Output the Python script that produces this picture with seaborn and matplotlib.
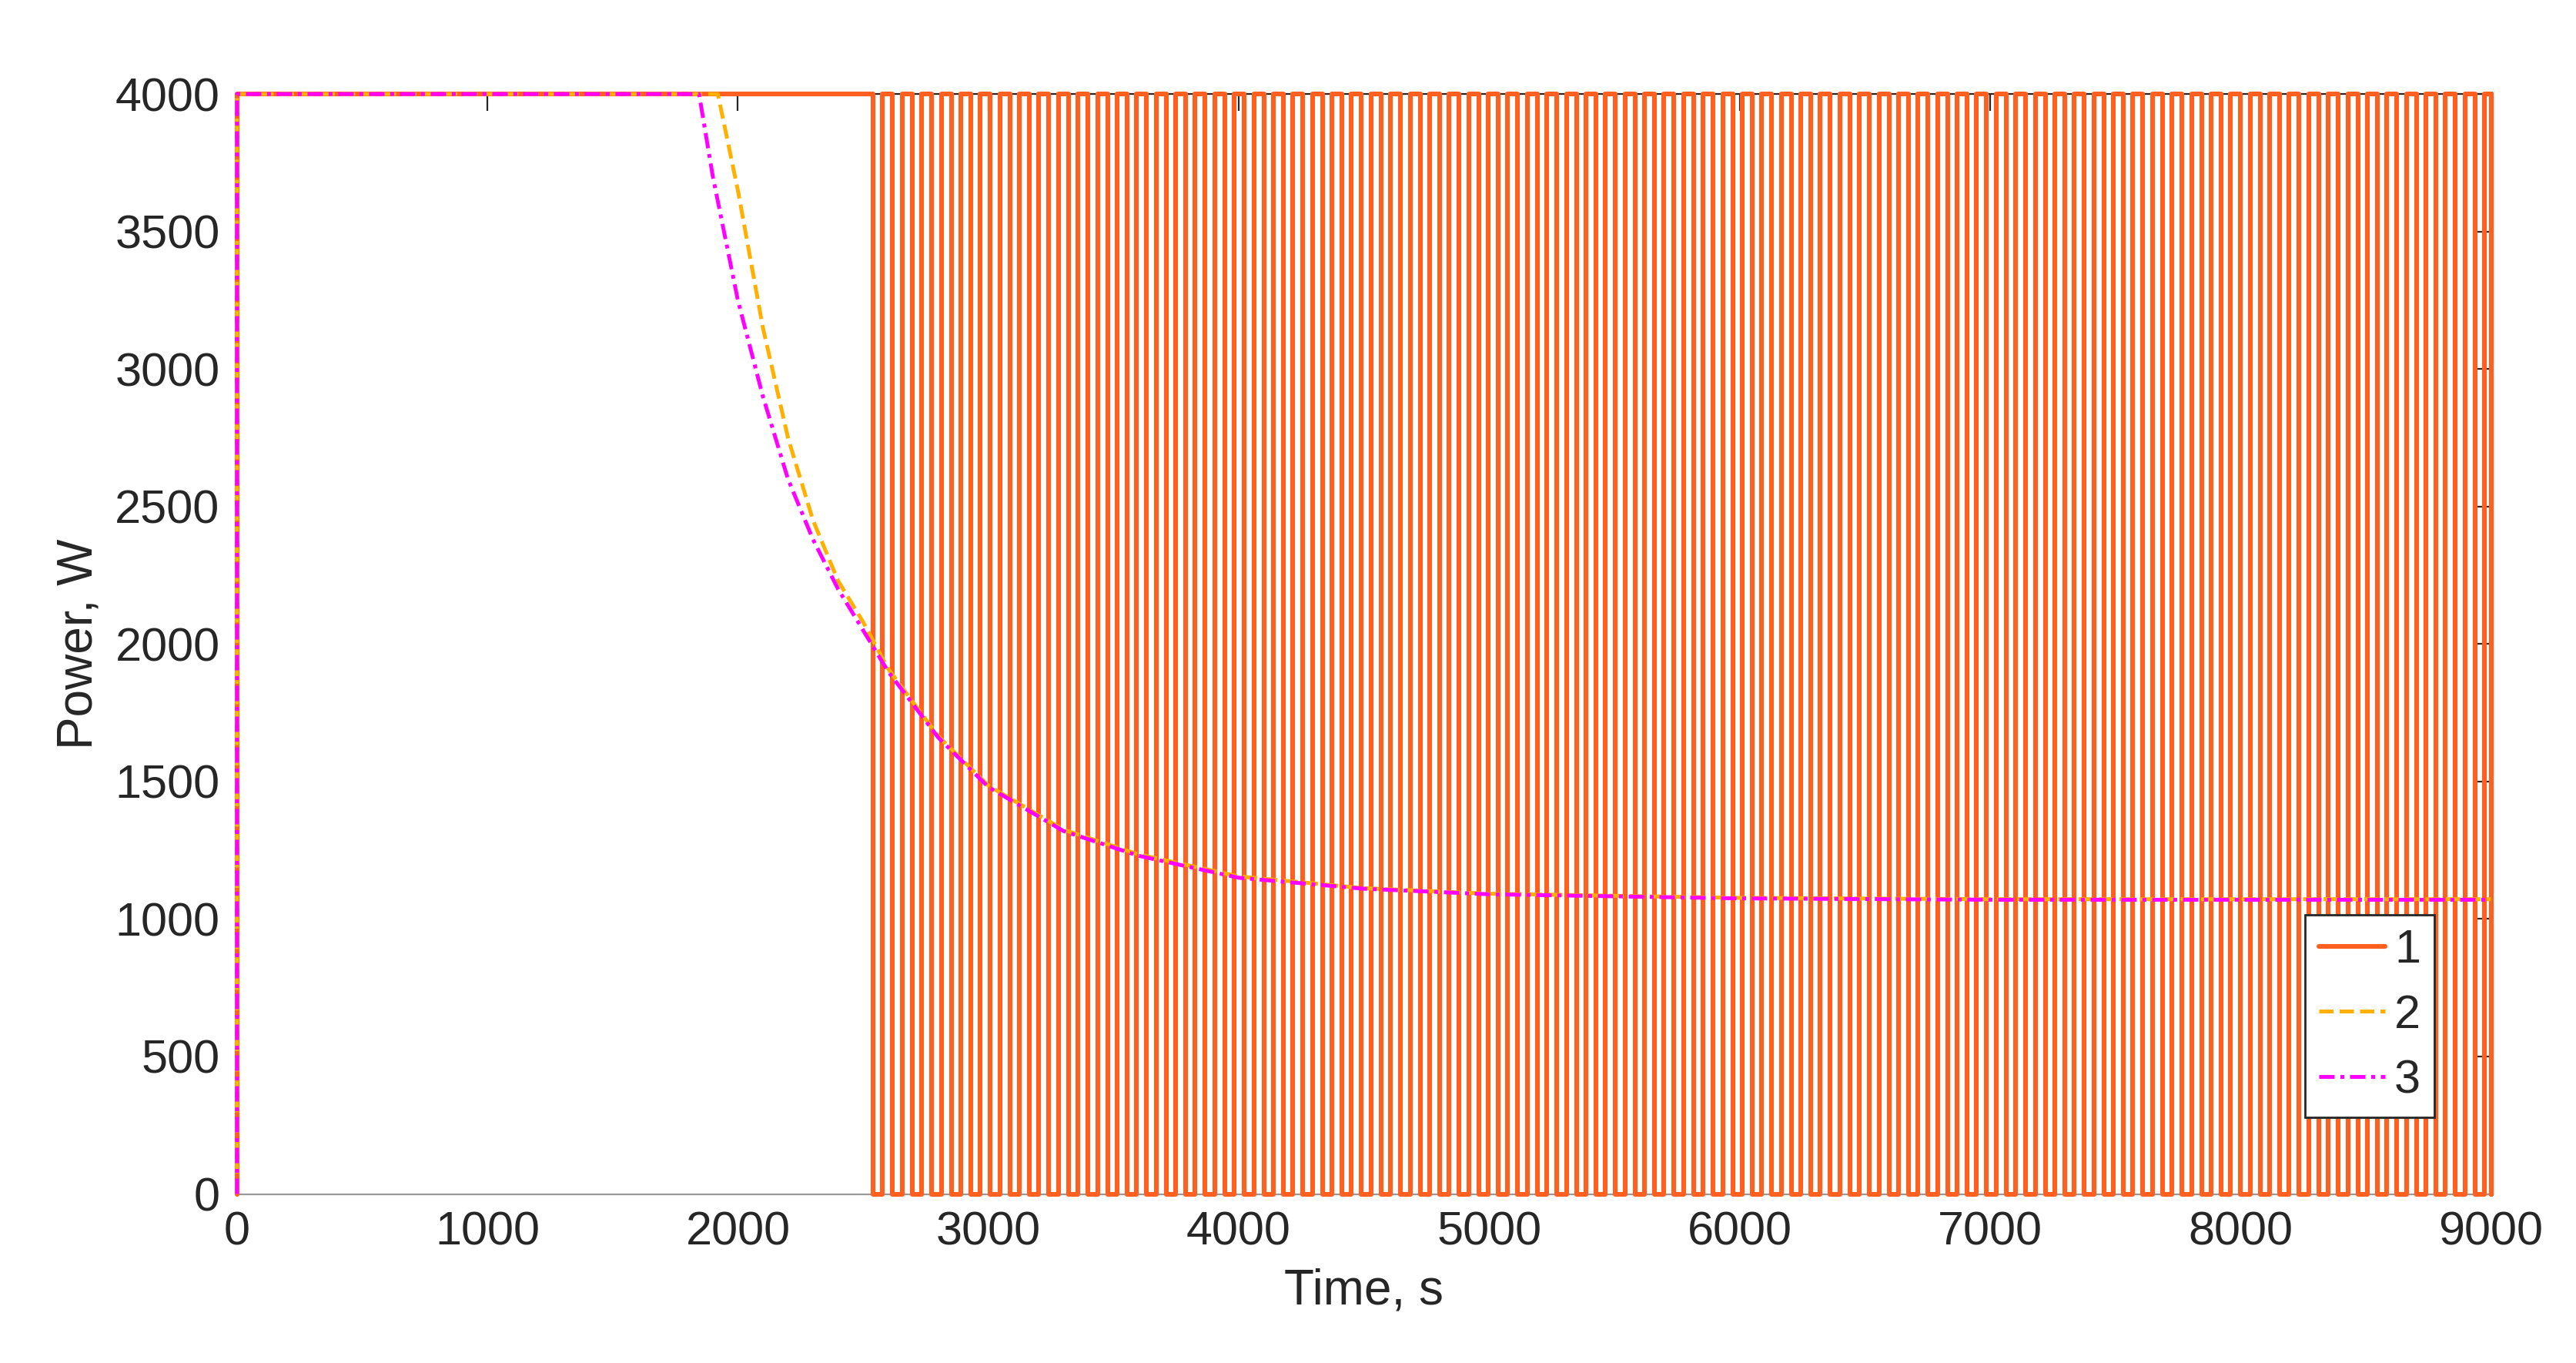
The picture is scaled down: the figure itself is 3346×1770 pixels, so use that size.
import numpy as np
import pandas as pd
import matplotlib
matplotlib.use("Agg")
import matplotlib.pyplot as plt
import seaborn as sns

# curve 1: on/off switching after 2500 s
switch_start = 2500
switch_end = 9000
switch_period = 78
switch_on = 40
p_max = 4000

# curves 2 and 3
t2 = [0, 0, 1920, 2000, 2100, 2200, 2300, 2400, 2500, 2600, 2800, 3000, 3300, 3600, 4000, 4500, 5000, 6000, 7000, 9000]
p2 = [0, 4000, 4000, 3650, 3150, 2750, 2450, 2230, 2080, 1910, 1665, 1485, 1325, 1235, 1155, 1112, 1092, 1077, 1072, 1072]
t3 = [0, 0, 1845, 1900, 2000, 2100, 2200, 2300, 2400, 2500, 2600, 2800, 3000, 3300, 3600, 4000, 4500, 5000, 6000, 7000, 9000]
p3 = [0, 4000, 4000, 3700, 3250, 2900, 2600, 2380, 2200, 2050, 1900, 1660, 1480, 1320, 1230, 1150, 1110, 1090, 1075, 1070, 1070]

# build step trace for curve 1
t1 = [0, 0, switch_start]
p1 = [0, p_max, p_max]
t = switch_start
while t < switch_end:
    t_off = min(t + switch_on, switch_end)
    t1 += [t_off, t_off]
    p1 += [p_max, 0]
    t_next = min(t + switch_period, switch_end)
    t1 += [t_next, t_next]
    p1 += [0, p_max]
    t = t_next

sns.set_style("white")
plt.rcParams['font.family'] = ['Liberation Sans', 'DejaVu Sans']

fig, ax = plt.subplots(figsize=(16.73, 8.85), dpi=200)
fig.subplots_adjust(left=0.092, right=0.967, top=0.931, bottom=0.124)

sns.lineplot(x=t1, y=p1, ax=ax, color='#FF5F1F', lw=2.2, label='1', sort=False, estimator=None)
sns.lineplot(x=t2, y=p2, ax=ax, color='#FFB000', lw=1.8, ls='--', label='2', sort=False, estimator=None)
sns.lineplot(x=t3, y=p3, ax=ax, color='#FF00FF', lw=1.8, label='3', sort=False, estimator=None)
ax.lines[-1].set_dashes([4, 1.5, 1, 1.5])
for ln in ax.lines:
    ln.set_clip_on(False)
    ln.set_zorder(3)

ax.set_xlim(0, 9000)
ax.set_ylim(0, 4000)
ax.set_xticks(range(0, 9001, 1000))
ax.set_yticks(range(0, 4001, 500))
ax.tick_params(direction='in', labelsize=22, length=8, top=True, right=True, width=0.8,
               colors='#262626', pad=8)
for s in ax.spines.values():
    s.set_color('#262626')
    s.set_linewidth(0.8)
ax.spines['bottom'].set_color('#999999')
ax.set_xlabel('Time, s', fontsize=23, color='#262626', labelpad=6)
ax.set_ylabel('Power, W', fontsize=23, color='#262626', labelpad=6)

leg = ax.legend(loc='lower right', bbox_to_anchor=(0.975, 0.07), fontsize=22, frameon=True,
                fancybox=False, handlelength=1.4, labelspacing=0.45, borderpad=0.3,
                handletextpad=0.2, borderaxespad=0)
leg.get_frame().set_edgecolor('#262626')
leg.get_frame().set_alpha(1)
leg.get_lines()[2].set_dashes([4, 1.5, 1, 1.5])
leg.set_zorder(5)

fig.savefig('out.png', dpi=200)
